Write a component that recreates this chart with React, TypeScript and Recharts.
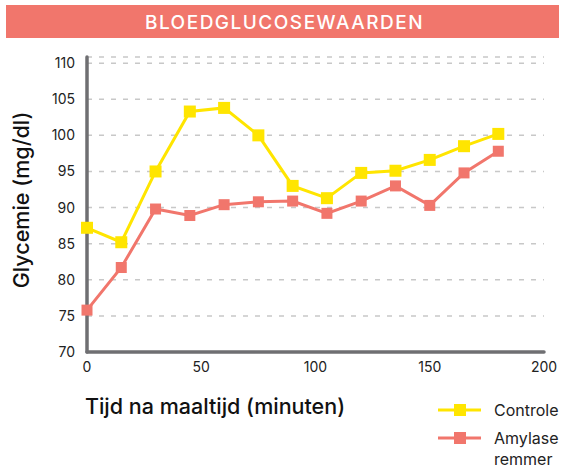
import { LineChart, Line, XAxis, YAxis, CartesianGrid } from "recharts";

const minutes = [0, 15, 30, 45, 60, 75, 90, 105, 120, 135, 150, 165, 180];
const controle = [87.2, 85.2, 95.0, 103.3, 103.8, 100.0, 93.0, 91.3, 94.8, 95.1, 96.6, 98.5, 100.2];
const amylase = [75.8, 81.7, 89.8, 88.9, 90.4, 90.8, 90.9, 89.2, 90.9, 93.0, 90.3, 94.8, 97.8];
const xTicks = [0, 50, 100, 150, 200];
const yTicks = [70, 75, 80, 85, 90, 95, 100, 105, 110];

const data = minutes.map((t, i) => ({ t, controle: controle[i], amylase: amylase[i] }));

const FONT = "Inter, 'Open Sans', sans-serif";
const YELLOW = "#FFE500";
const SALMON = "#F1766C";
const AXIS = "#6F6F72";

function SquareDot(props: any) {
  const { cx, cy, fill, size } = props;
  if (cx == null || cy == null) return null;
  return <rect x={cx - size / 2} y={cy - size / 2} width={size} height={size} fill={fill} />;
}

function LegendBox() {
  return (
    <svg width={140} height={70} style={{ position: "absolute", left: 438, top: 402, overflow: "visible" }}>
      <line x1={0} x2={43} y1={8} y2={8} stroke={YELLOW} strokeWidth={3} />
      <rect x={16} y={2} width={12} height={12} fill={YELLOW} />
      <text x={56} y={14} fontSize={16} fill="#222" fontFamily={FONT}>Controle</text>
      <line x1={0} x2={43} y1={36} y2={36} stroke={SALMON} strokeWidth={3} />
      <rect x={16} y={30} width={12} height={12} fill={SALMON} />
      <text x={56} y={42} fontSize={16} fill="#222" fontFamily={FONT}>Amylase</text>
      <text x={56} y={63} fontSize={16} fill="#222" fontFamily={FONT}>remmer</text>
    </svg>
  );
}

export default function App() {
  return (
    <div style={{ position: "absolute", left: 0, top: 0, width: 565, height: 468, background: "#fff", fontFamily: FONT }}>
      <div
        style={{
          position: "absolute",
          left: 6,
          top: 5,
          width: 553,
          height: 33,
          background: SALMON,
          color: "#fff",
          fontSize: 19,
          fontWeight: 500,
          lineHeight: "35px",
          textAlign: "center",
          letterSpacing: 1.5,
          textIndent: 4,
        }}
      >
        BLOEDGLUCOSEWAARDEN
      </div>
      <LineChart width={565} height={468} data={data} margin={{ top: 57, right: 21, bottom: 86, left: 27 }}>
        <CartesianGrid
          vertical={false}
          stroke="#C8C8C8"
          strokeWidth={1.5}
          strokeDasharray="5 7"
        />
        <XAxis
          dataKey="t"
          type="number"
          domain={[0, 200]}
          ticks={xTicks}
          height={30}
          axisLine={{ stroke: AXIS, strokeWidth: 3.5, strokeLinecap: "round" }}
          tickLine={false}
          tick={{ fontSize: 14, fill: "#222", fontFamily: FONT }}
          tickMargin={4}
        />
        <YAxis
          type="number"
          domain={[70, 110.85]}
          ticks={yTicks}
          width={60}
          interval={0}
          allowDataOverflow
          axisLine={{ stroke: AXIS, strokeWidth: 3.5, strokeLinecap: "round" }}
          tickLine={false}
          tick={{ fontSize: 14, fill: "#222", fontFamily: FONT }}
          tickMargin={6}
        />
        <Line
          dataKey="controle"
          stroke={YELLOW}
          strokeWidth={3}
          dot={<SquareDot fill={YELLOW} size={12} />}
          activeDot={false}
          isAnimationActive={false}
        />
        <Line
          dataKey="amylase"
          stroke={SALMON}
          strokeWidth={3}
          dot={<SquareDot fill={SALMON} size={11} />}
          activeDot={false}
          isAnimationActive={false}
        />
        <text
          x={21}
          y={200}
          transform="rotate(-90 21 200)"
          textAnchor="middle"
          dominantBaseline="central"
          fontSize={21.5}
          fontWeight={500}
          fill="#111"
          fontFamily={FONT}
        >
          Glycemie (mg/dl)
        </text>
        <text x={215} y={414} textAnchor="middle" fontSize={21.5} fontWeight={500} fill="#111" fontFamily={FONT}>
          Tijd na maaltijd (minuten)
        </text>
      </LineChart>
      <LegendBox />
    </div>
  );
}
